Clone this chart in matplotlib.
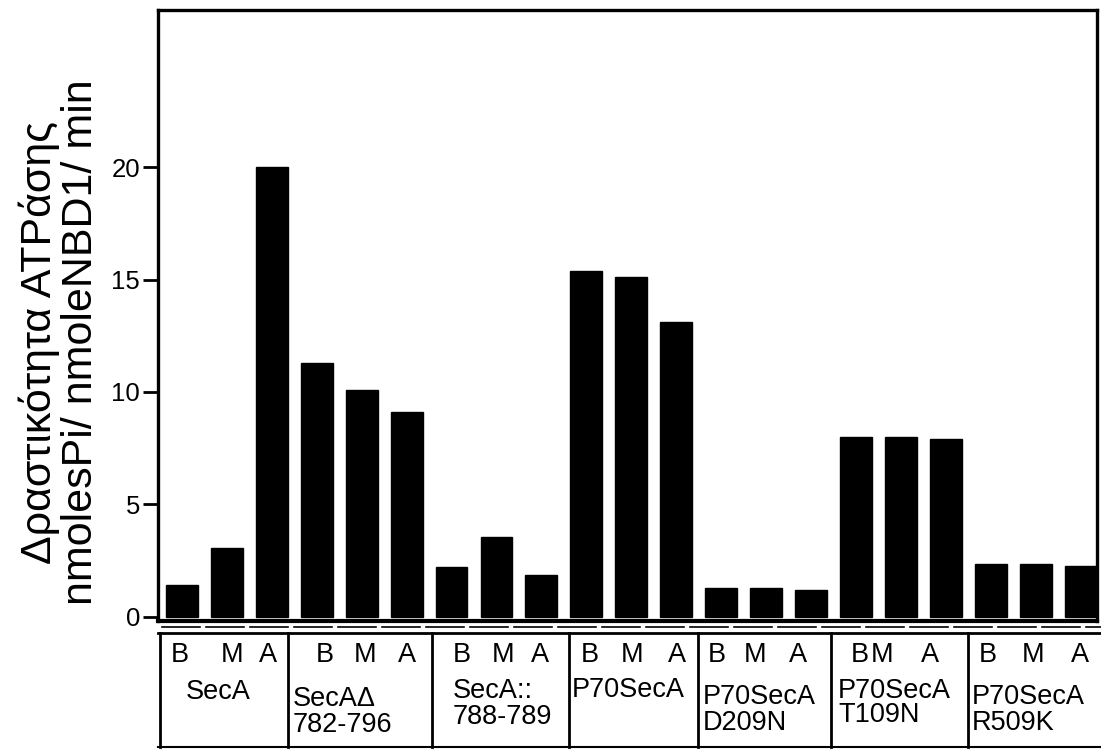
import matplotlib
matplotlib.use("Agg")
import matplotlib.pyplot as plt
import numpy as np

plt.rcParams['font.family'] = ['Liberation Sans', 'DejaVu Sans']

# ---- data ----
groups = ["SecA", "SecAΔ\n782-796", "SecA::\n788-789", "P70SecA",
          "P70SecA\nD209N", "P70SecA\nT109N", "P70SecA\nR509K"]
conditions = ["B", "M", "A"]
vals_B = [1.4, 11.3, 2.2, 15.4, 1.3, 8.0, 2.35]
vals_M = [3.05, 10.1, 3.55, 15.1, 1.3, 8.0, 2.35]
vals_A = [20.0, 9.1, 1.85, 13.1, 1.2, 7.9, 2.25]
yticks = [0, 5, 10, 15, 20]
ylabel_lines = ["Δραστικότητα ATPάσης", "nmolesPi/ nmoleNBD1/ min"]

W, H = 1101, 750
fig = plt.figure(figsize=(W / 100, H / 100), dpi=100)

def fx(px):
    return px / W

def fy(py):
    return 1 - py / H

# main axes in pixel box
ax_l, ax_r, ax_t, ax_b = 158, 1097, 10, 621
ax = fig.add_axes([fx(ax_l), fy(ax_b), fx(ax_r) - fx(ax_l), fy(ax_t) - fy(ax_b)])

heights = []
for b, m, a in zip(vals_B, vals_M, vals_A):
    heights += [b, m, a]
x = np.arange(len(heights))
ax.bar(x, heights, width=0.71, color='black', edgecolor='black')

ax.set_xlim(-0.53, 20.36)
ax.set_ylim(-0.18, 26.98)
ax.set_xticks([])
ax.set_yticks(yticks)
ax.set_yticklabels([str(t) for t in yticks], fontsize=18.5)
ax.tick_params(axis='y', direction='out', length=11, width=2, pad=2)
for s in ax.spines.values():
    s.set_linewidth(2.4)
    s.set_color('black')
ax.spines['bottom'].set_linewidth(3)

# y label (two lines)
fig.text(fx(39), fy(342), ylabel_lines[0], rotation=90, fontsize=31,
         ha='center', va='center')
fig.text(fx(81), fy(342), ylabel_lines[1], rotation=90, fontsize=31,
         ha='center', va='center')

# ---- table below, drawn in pixel coordinates ----
tab = fig.add_axes([0, 0, 1, 1], zorder=-1)
tab.set_xlim(0, W)
tab.set_ylim(H, 0)
tab.axis('off')

# broken double line under the axis
seg_x = np.arange(160, 1100, 44)
for sx in seg_x:
    tab.plot([sx + 2, sx + 40], [627, 627], color='black', lw=1.2)
tab.plot([158, 1101], [633, 633], color='black', lw=2)
tab.plot([158, 1101], [747, 747], color='black', lw=1.5)
dividers = [160, 288, 432, 569, 698, 831, 968]
for dx in dividers:
    tab.plot([dx, dx], [633, 747], color='black', lw=2)

letter_x = [[180, 232, 268], [325, 365, 407], [462, 503, 540], [590, 632, 677],
            [717, 755, 798], [860, 882, 930], [988, 1033, 1080]]
name_x = [186, 293, 453, 572, 703, 838, 972]
name_y = [692, 712, 704, 690, 710, 703, 710]
for gi, g in enumerate(groups):
    for ci, c in enumerate(conditions):
        tab.text(letter_x[gi][ci], 655, c, fontsize=19.5, ha='center', va='center')
    tab.text(name_x[gi], name_y[gi], g, fontsize=19.5, ha='left', va='center',
             linespacing=0.95)

fig.savefig("out.png", dpi=100)
